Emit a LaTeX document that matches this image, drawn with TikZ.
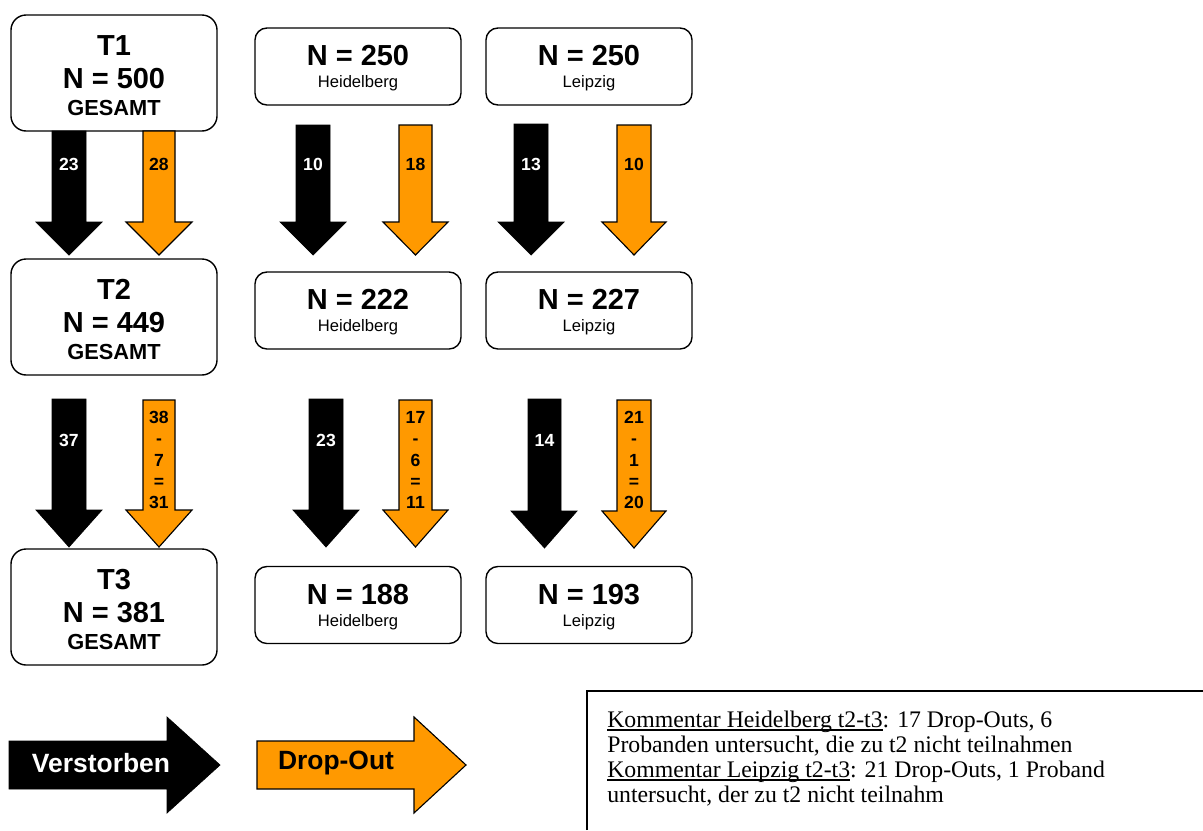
\documentclass[tikz,border=0pt]{standalone}
\usepackage{fontspec}
\setmainfont{Liberation Serif}
\setsansfont{Liberation Sans}
\usepackage{xcolor}
\definecolor{dropout}{RGB}{255,153,0}
\tikzset{every picture/.style={/utils/exec={\sffamily}}}
\tikzset{
	bigbox/.style={draw, line width=1pt, rounded corners=0.38cm, minimum width=5.15cm, minimum height=2.9cm, align=center, inner sep=0pt, font=\fontsize{20.6}{23.5}\selectfont\bfseries},
	citybox/.style={draw, line width=1pt, rounded corners=0.3cm, minimum width=5.15cm, minimum height=1.925cm, align=center, inner sep=0pt, font=\fontsize{20.6}{23.5}\selectfont\bfseries},
	deadarrow/.style={fill=black, draw=black, line width=0.5pt},
	droparrow/.style={fill=dropout, draw=black, line width=0.8pt},
	deadlabel/.style={text=white, font=\fontsize{12.5}{15}\selectfont\bfseries},
	droplabel/.style={text=black, align=center, font=\fontsize{12.5}{15}\selectfont\bfseries},
	legendlabel/.style={font=\fontsize{18.8}{22}\selectfont\bfseries},
	commentline/.style={anchor=base west, inner sep=0pt, font=\rmfamily\fontsize{16.9}{18}\selectfont}
}
\newcommand{\total}[2]{\rule{0pt}{17.6pt}#1\\ N = #2\\[-4pt] {\fontsize{15.5}{18}\selectfont GESAMT}}
\newcommand{\city}[2]{\rule{0pt}{17.2pt}N = #1\\[-8pt] {\fontsize{11.8}{14}\selectfont\mdseries #2}}
\newcommand{\cmtul}[1]{\setbox0\hbox{#1}\rlap{\rule[-2.7pt]{\wd0}{1.2pt}}\box0}

\begin{document}
\begin{tikzpicture}[x=0.025cm, y=-0.025cm]
		\useasboundingbox (0,0) rectangle (1203,830);

		% boxes
		\node[bigbox] (t1) at (114, 73) {\total{T1}{500}};
		\node[bigbox] (t2) at (114, 317) {\total{T2}{449}};
		\node[bigbox] (t3) at (114, 607) {\total{T3}{381}};

		\node[citybox] (hd1) at (358, 66.5) {\city{250}{Heidelberg}};
		\node[citybox] (hd2) at (358, 310.5) {\city{222}{Heidelberg}};
		\node[citybox] (hd3) at (358, 605) {\city{188}{Heidelberg}};

		\node[citybox] (le1) at (589, 66.5) {\city{250}{Leipzig}};
		\node[citybox] (le2) at (589, 310.5) {\city{227}{Leipzig}};
		\node[citybox] (le3) at (589, 605) {\city{193}{Leipzig}};

		% arrows t1 - t2
		\draw[deadarrow] (52,131) -- (86,131) -- (86,222) -- (102,222) -- (69,255) -- (36,222) -- (52,222) -- cycle;
		\draw[droparrow] (143,131) -- (175,131) -- (175,222) -- (192,222) -- (159,255) -- (126,222) -- (143,222) -- cycle;
		\draw[deadarrow] (296,125) -- (330,125) -- (330,222) -- (346,222) -- (313,255) -- (280,222) -- (296,222) -- cycle;
		\draw[droparrow] (399,125) -- (432,125) -- (432,222) -- (448,222) -- (415.5,255) -- (383,222) -- (399,222) -- cycle;
		\draw[deadarrow] (514,124) -- (548,124) -- (548,222) -- (564,222) -- (531,255) -- (498,222) -- (514,222) -- cycle;
		\draw[droparrow] (617,125) -- (651,125) -- (651,222) -- (666,222) -- (634,255) -- (602,222) -- (617,222) -- cycle;

		\node[deadlabel] (d1) at (69, 164) {23};
		\node[droplabel] (o1) at (159, 164) {28};
		\node[deadlabel] (d2) at (313, 164) {10};
		\node[droplabel] (o2) at (415.5, 164) {18};
		\node[deadlabel] (d3) at (531, 164) {13};
		\node[droplabel] (o3) at (634, 164) {10};

		% arrows t2 - t3
		\draw[deadarrow] (52,399) -- (86,399) -- (86,510) -- (102,510) -- (69,547) -- (36,510) -- (52,510) -- cycle;
		\draw[droparrow] (143,400) -- (175,400) -- (175,510) -- (192,510) -- (159,547) -- (126,510) -- (143,510) -- cycle;
		\draw[deadarrow] (309,399) -- (343,399) -- (343,510) -- (359,510) -- (326,547) -- (293,510) -- (309,510) -- cycle;
		\draw[droparrow] (399,400) -- (432,400) -- (432,510) -- (448,510) -- (415.5,547) -- (383,510) -- (399,510) -- cycle;
		\draw[deadarrow] (528,399) -- (561,399) -- (561,511) -- (577,511) -- (544.5,548) -- (511,511) -- (528,511) -- cycle;
		\draw[droparrow] (617,400) -- (651,400) -- (651,511) -- (666,511) -- (634,548) -- (602,511) -- (617,511) -- cycle;

		\node[deadlabel] (d4) at (69, 440) {37};
		\node[droplabel] (o4) at (159, 460) {38\\-\\7\\=\\31};
		\node[deadlabel] (d5) at (326, 440) {23};
		\node[droplabel] (o5) at (415.5, 460) {17\\-\\6\\=\\11};
		\node[deadlabel] (d6) at (544.5, 440) {14};
		\node[droplabel] (o6) at (634, 460) {21\\-\\1\\=\\20};

		% legend
		\draw[deadarrow] (9,741) -- (167,741) -- (167,717) -- (220,765) -- (167,813) -- (167,789) -- (9,789) -- cycle;
		\draw[droparrow] (257,741) -- (414,741) -- (414,717) -- (466,765) -- (414,813) -- (414,789) -- (257,789) -- cycle;
		\node[legendlabel, text=white] (dead) at (101, 763) {Verstorben};
		\node[legendlabel] (drop) at (336, 763) {Drop-Out};

		% comment
		\draw[line width=1pt] (587,830) -- (587,691) -- (1203,691);
		\node[commentline] (c1) at (607, 727) {\cmtul{Kommentar Heidelberg t2-t3}: 17 Drop-Outs, 6};
		\node[commentline] (c2) at (607, 752) {Probanden untersucht, die zu t2 nicht teilnahmen};
		\node[commentline] (c3) at (607, 777) {\cmtul{Kommentar Leipzig t2-t3}: 21 Drop-Outs, 1 Proband};
		\node[commentline] (c4) at (607, 802) {untersucht, der zu t2 nicht teilnahm};
	\end{tikzpicture}
\end{document}
